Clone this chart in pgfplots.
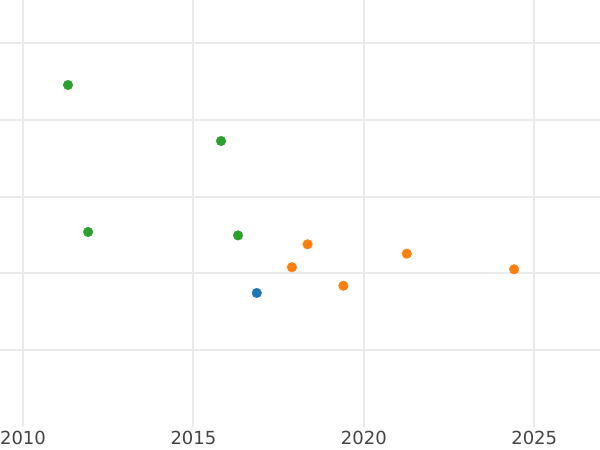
\documentclass[border=0pt]{standalone}
\usepackage{pgfplots}
\pgfplotsset{compat=1.18}
\usepackage{fontspec}
\setmainfont{DejaVu Sans}
\definecolor{cblue}{HTML}{1F77B4}
\definecolor{corange}{HTML}{FF7F0E}
\definecolor{cgreen}{HTML}{2CA02C}
\definecolor{cgrid}{HTML}{EBEBEB}
\definecolor{ctick}{HTML}{444444}
\begin{document}
\begin{tikzpicture}
\begin{axis}[
  scale only axis, width=600pt, height=427pt,
  xmin=2009.325, xmax=2026.93, ymin=0, ymax=5.563,
  axis line style={draw=none}, tick style={draw=none},
  xtick={2010,2020}, extra x ticks={2015,2025},
  ytick={3,4,5}, extra y ticks={1,2},
  yticklabels={}, extra y tick labels={},
  xticklabel style={font=\fontsize{18}{21}\selectfont, text=ctick, yshift=-1pt},
  /pgf/number format/1000 sep={},
  /pgf/number format/assume math mode=true,
  xmajorgrids, ymajorgrids,
  major grid style={draw=cgrid, line width=2pt},
  extra x tick style={grid style={draw=cgrid, line width=1pt}},
  extra y tick style={grid style={draw=cgrid, line width=1pt}},
  every axis plot/.append style={only marks, mark=*, mark size=4.8pt},
]
\addplot[cgreen, mark options={draw=cgreen, fill=cgreen}] coordinates {
  (2011.32,4.456) (2015.81,3.726) (2011.91,2.541) (2016.31,2.496)};
\addplot[cblue, mark options={draw=cblue, fill=cblue}] coordinates {
  (2016.86,1.746)};
\addplot[corange, mark options={draw=corange, fill=corange}] coordinates {
  (2017.89,2.081) (2018.35,2.380) (2019.40,1.840) (2021.26,2.258) (2024.41,2.055)};
\end{axis}
\pgfresetboundingbox
\path (0,-23pt) rectangle (600pt,427pt);
\end{tikzpicture}
\end{document}
